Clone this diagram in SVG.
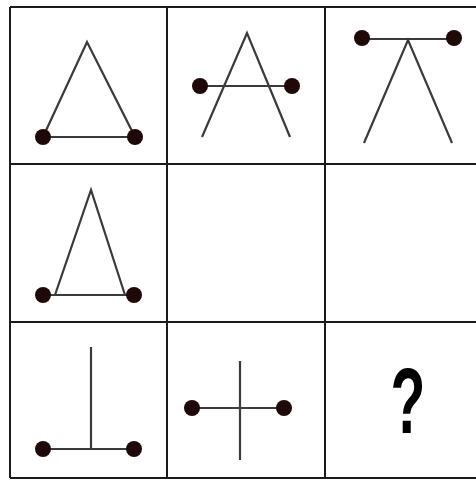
<svg xmlns="http://www.w3.org/2000/svg" width="476" height="480" viewBox="0 0 476 480">
<style>
.grid{stroke:#1a1a1a;stroke-width:2;fill:none}
.ln{stroke:#3a3a3a;stroke-width:2.2;fill:none;stroke-linecap:butt}
.dot{fill:#1e0808}
.q{font-family:"Liberation Sans",Arial,sans-serif;font-size:92px;font-weight:bold;fill:#000;text-anchor:middle}
</style>
<rect width="476" height="480" fill="#fff"/>
<g id="grid" class="grid">
<line x1="10" y1="7" x2="476" y2="7"/>
<line x1="10" y1="164" x2="476" y2="164"/>
<line x1="10" y1="322" x2="476" y2="322"/>
<line x1="10" y1="478" x2="476" y2="478"/>
<line x1="10" y1="7" x2="10" y2="478"/>
<line x1="167" y1="7" x2="167" y2="478"/>
<line x1="325" y1="7" x2="325" y2="478"/>
</g>
<g id="cell1">
<path class="ln" d="M43 137 L87 42 L135 137 Z"/>
<circle class="dot" cx="43" cy="137" r="8"/>
<circle class="dot" cx="135" cy="137" r="8"/>
</g>
<g id="cell2">
<path class="ln" d="M202 137 L247 33 L290 137"/>
<line class="ln" x1="200" y1="86" x2="292" y2="86"/>
<circle class="dot" cx="200" cy="86" r="8"/>
<circle class="dot" cx="292" cy="86" r="8"/>
</g>
<g id="cell3">
<line class="ln" x1="362" y1="39" x2="454" y2="39"/>
<path class="ln" d="M364 143 L408 40 L452 143"/>
<circle class="dot" cx="362" cy="38" r="8"/>
<circle class="dot" cx="454" cy="38" r="8"/>
</g>
<g id="cell4">
<path class="ln" d="M55 295 L91 190 L125 295"/>
<line class="ln" x1="43" y1="295" x2="134" y2="295"/>
<circle class="dot" cx="43" cy="295" r="8"/>
<circle class="dot" cx="134" cy="295" r="8"/>
</g>
<g id="cell7">
<line class="ln" x1="91" y1="347" x2="91" y2="449"/>
<line class="ln" x1="43" y1="449" x2="134" y2="449"/>
<circle class="dot" cx="43" cy="449" r="8"/>
<circle class="dot" cx="134" cy="449" r="8"/>
</g>
<g id="cell8">
<line class="ln" x1="240" y1="361" x2="240" y2="460"/>
<line class="ln" x1="192" y1="408" x2="284" y2="408"/>
<circle class="dot" cx="192" cy="408" r="8"/>
<circle class="dot" cx="284" cy="408" r="8"/>
</g>
<g id="cell9">
<text class="q" transform="translate(408 433) scale(0.62 1)" x="0" y="0">?</text>
</g>
</svg>
